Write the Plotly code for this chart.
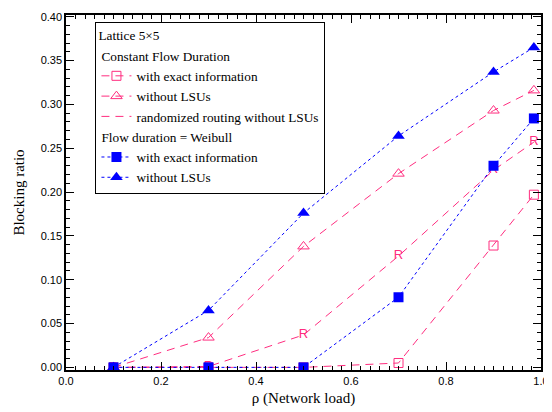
import plotly.graph_objects as go

rho = [0.1, 0.3, 0.5, 0.7, 0.9, 0.985]

const_exact = [0.0, 0.0, 0.0, 0.005, 0.139, 0.197]
const_no_lsu = [0.0, 0.034, 0.138, 0.221, 0.293, 0.316]
const_random = [0.0, 0.001, 0.037, 0.127, 0.225, 0.257]
weib_exact = [0.0, 0.0, 0.0, 0.080, 0.230, 0.284]
weib_no_lsu = [0.0, 0.065, 0.176, 0.264, 0.337, 0.365]

PINK = "#ff2d7f"
BLUE = "#0000ff"
SERIF = "Liberation Serif"
SANS = "Liberation Sans"
LEG_SIZE = 13.3

fig = go.Figure()

fig.add_trace(go.Scatter(
    x=rho, y=const_exact, mode="lines+markers", name="with exact information",
    legendgroup="c", legendgrouptitle=dict(text="Constant Flow Duration", font=dict(family=SERIF, size=LEG_SIZE, color="black")),
    line=dict(color=PINK, width=1, dash="8px,6px"),
    marker=dict(symbol="square-open", size=9, color=PINK, line=dict(width=1))))
fig.add_trace(go.Scatter(
    x=rho, y=const_no_lsu, mode="lines+markers", name="without LSUs",
    legendgroup="c",
    line=dict(color=PINK, width=1, dash="8px,6px"),
    marker=dict(symbol="triangle-up-open", size=10, color=PINK, line=dict(width=1))))
fig.add_trace(go.Scatter(
    x=rho, y=const_random, mode="lines+text", name="randomized routing without LSUs",
    legendgroup="c", text=["R"] * len(rho), textposition="middle center",
    textfont=dict(family=SANS, size=13, color=PINK),
    line=dict(color=PINK, width=1, dash="8px,6px")))
fig.add_trace(go.Scatter(
    x=rho, y=weib_exact, mode="lines+markers", name="with exact information",
    legendgroup="w", legendgrouptitle=dict(text="Flow duration = Weibull", font=dict(family=SERIF, size=LEG_SIZE, color="black")),
    line=dict(color=BLUE, width=1, dash="dot"),
    marker=dict(symbol="square", size=10, color=BLUE)))
fig.add_trace(go.Scatter(
    x=rho, y=weib_no_lsu, mode="lines+markers", name="without LSUs",
    legendgroup="w",
    line=dict(color=BLUE, width=1, dash="dot"),
    marker=dict(symbol="triangle-up", size=11, color=BLUE)))

axis_common = dict(
    showline=True, linecolor="black", linewidth=1.5, mirror="ticks",
    ticks="inside", ticklen=8, tickcolor="black", tickwidth=1,
    showgrid=False, zeroline=False, ticklabeloverflow="allow",
    tickfont=dict(family=SANS, size=11, color="black"),
)

fig.update_xaxes(range=[0, 1.0], dtick=0.2, tickformat=".1f",
                 minor=dict(dtick=0.02, ticks="inside", ticklen=4, tickcolor="black"),
                 title=dict(text="ρ (Network load)", font=dict(family=SERIF, size=15, color="black"), standoff=7),
                 **axis_common)
fig.update_yaxes(range=[-0.003, 0.402], dtick=0.05, tickformat=".2f",
                 minor=dict(dtick=0.01, ticks="inside", ticklen=4, tickcolor="black"),
                 title=dict(text="Blocking ratio", font=dict(family=SERIF, size=15, color="black"), standoff=12),
                 **axis_common)

# The page body has an 8px margin, so the figure is sized and placed to compensate.
fig.update_layout(
    width=544, height=404,
    margin=dict(l=58, r=3, t=7, b=42),
    plot_bgcolor="white", paper_bgcolor="white",
    legend=dict(
        x=0.062, y=0.98, xanchor="left", yanchor="top",
        bgcolor="white", bordercolor="black", borderwidth=1,
        title=dict(text="Lattice 5×5", font=dict(family=SERIF, size=LEG_SIZE, color="black")),
        font=dict(family=SERIF, size=LEG_SIZE, color="black"),
        tracegroupgap=0, itemwidth=30,
    ),
)

fig.write_html("out.html")
